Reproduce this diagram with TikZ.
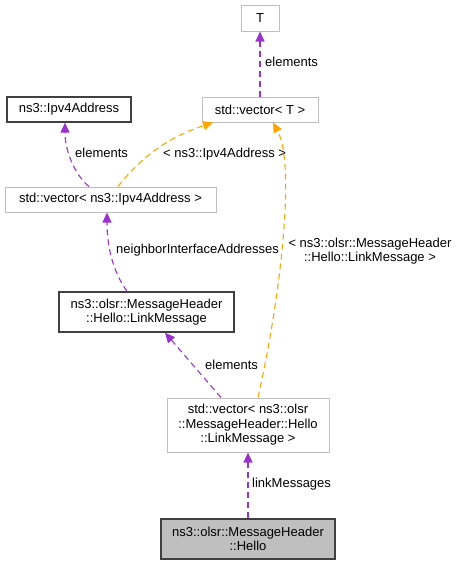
\documentclass[tikz,border=0pt]{standalone}
\usepackage{fontspec}
\setmainfont{Liberation Sans}
\usetikzlibrary{arrows.meta}
\definecolor{edgepurple}{HTML}{9A32CD}
\definecolor{edgeorange}{HTML}{FFA500}
\definecolor{boxgray}{HTML}{BFBFBF}
\definecolor{boxdark}{HTML}{404040}
\begin{document}
\begin{tikzpicture}[x=1pt,y=-1pt,
  font=\fontsize{13}{14.5}\selectfont,
  cls/.style={draw=boxgray, line width=1pt, fill=white, inner sep=0pt, align=center},
  darkcls/.style={draw=boxdark, line width=1.3pt, fill=white, inner sep=0pt, align=center},
  hlcls/.style={draw=boxdark, line width=1.3pt, fill=boxgray, inner sep=0pt, align=center},
  rel/.style={draw=edgepurple, line width=1.1pt, dash pattern=on 6pt off 4pt, -{Triangle[length=10pt,width=9pt,fill=edgepurple]}},
  tmpl/.style={draw=edgeorange, line width=1.1pt, dash pattern=on 6pt off 4pt, -{Triangle[length=10pt,width=9pt,fill=edgeorange]}},
  lbl/.style={inner sep=0pt, anchor=west}]
\useasboundingbox (0,0) rectangle (459,565);
\node[cls, minimum width=38pt, minimum height=26pt] (T) at (260,18) {T};
\node[cls, minimum width=116pt, minimum height=25pt] (vT) at (260,109.5) {std::vector< T >};
\node[darkcls, minimum width=124pt, minimum height=25pt] (ipv4) at (69,109.5) {ns3::Ipv4Address};
\node[cls, minimum width=211pt, minimum height=25pt] (vipv) at (110.5,199.5) {std::vector< ns3::Ipv4Address >};
\node[darkcls, minimum width=175pt, minimum height=40pt] (lm) at (146.5,312) {ns3::olsr::MessageHeader\\::Hello::LinkMessage};
\node[cls, minimum width=162pt, minimum height=54pt] (vlm) at (248,425) {std::vector< ns3::olsr\\::MessageHeader::Hello\\::LinkMessage >};
\node[hlcls, minimum width=174pt, minimum height=40pt] (hello) at (248,539) {ns3::olsr::MessageHeader\\::Hello};

\draw[rel] (vT.north) -- (T.south);
\node[lbl] (l1) at (265,62) {elements};

\draw[rel] ([xshift=-21.5pt]vipv.north) .. controls (78,178) and (65,155) .. ([xshift=-4pt]ipv4.south);
\node[lbl] (l2) at (75,153) {elements};

\draw[tmpl] ([xshift=7.5pt]vipv.north) .. controls (135,165) and (160,140) .. ([xshift=-47pt]vT.south);
\node[lbl] (l3) at (163,154) {< ns3::Ipv4Address >};

\draw[tmpl] ([xshift=10pt]vlm.north) .. controls (280,300) and (296,165) .. ([xshift=13pt]vT.south);
\node[align=center, inner sep=0pt] (l4) at (370,251) {< ns3::olsr::MessageHeader\\::Hello::LinkMessage >};

\draw[rel] ([xshift=-19.5pt]lm.north) .. controls (112,270) and (107,245) .. ([xshift=-3.5pt]vipv.south);
\node[lbl] (l5) at (116,250) {neighborInterfaceAddresses};

\draw[rel] ([xshift=-27pt]vlm.north) -- ([xshift=18.5pt]lm.south);
\node[lbl] (l6) at (205,365) {elements};

\draw[rel] (hello.north) -- (vlm.south);
\node[lbl] (l7) at (252,484) {linkMessages};
\end{tikzpicture}
\end{document}
